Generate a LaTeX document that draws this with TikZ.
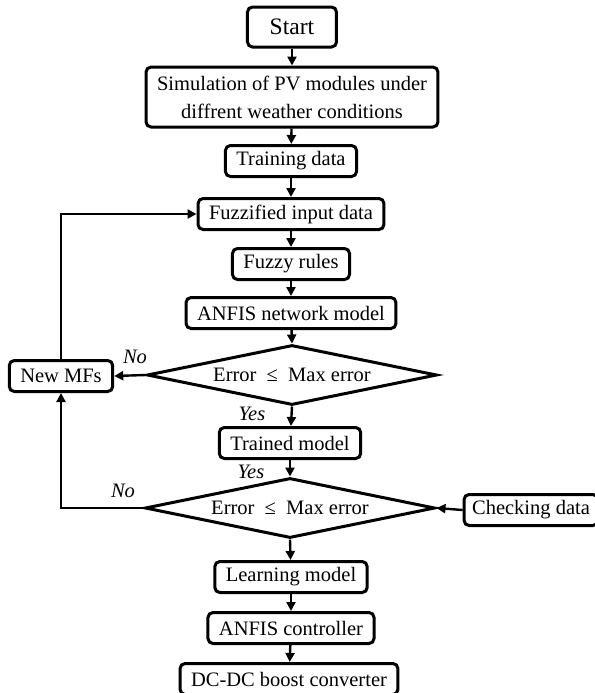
\documentclass[tikz,border=0pt]{standalone}
\usepackage{fontspec}
\setmainfont{Liberation Serif}
\usetikzlibrary{shapes.geometric,arrows.meta}

\tikzset{
	stepbox/.style={draw, line width=1.5pt, rounded corners=2.5pt, minimum height=15.5pt, inner xsep=5.5pt, inner ysep=2pt},
	decision/.style={draw, diamond, line width=1.5pt, aspect=4.8, minimum width=145pt, minimum height=30pt, inner sep=0pt},
	flow/.style={-{Triangle[length=4.5pt,width=4.5pt]}, line width=1.2pt},
	answer/.style={font=\fontsize{10.25}{12}\selectfont\itshape},
}

\begin{document}
\begin{tikzpicture}[x=0.5pt, y=-0.5pt, font=\fontsize{10.25}{14}\selectfont]
		\useasboundingbox (0,0) rectangle (595,693);

		% main column
		\node[stepbox, minimum width=44.5pt, minimum height=20pt, font=\fontsize{11.8}{14}\selectfont] (start) at (292,27) {Start};
		\node[stepbox, align=center, minimum height=30pt] (sim) at (292,97) {Simulation of PV modules under\\diffrent weather conditions};
		\node[stepbox] (train) at (291,161) {Training data};
		\node[stepbox] (fuzz) at (291,214) {Fuzzified input data};
		\node[stepbox] (rules) at (291,264) {Fuzzy rules};
		\node[stepbox] (anfis) at (291,313) {ANFIS network model};
		\node[decision] (err1) at (292,375) {Error\ \ ≤\ \ Max error};
		\node[stepbox] (trained) at (290,443) {Trained model};
		\node[decision] (err2) at (290,508) {Error\ \ ≤\ \ Max error};
		\node[stepbox] (learn) at (291,577) {Learning model};
		\node[stepbox] (ctrl) at (291,628) {ANFIS controller};
		\node[stepbox] (dcdc) at (289,679) {DC-DC boost converter};

		% side boxes
		\node[stepbox] (newmf) at (61,376) {New MFs};
		\node[stepbox, inner xsep=4pt] (check) at (531,510) {Checking data};

		% answers
		\node[answer] (no1) at (135,357) {No};
		\node[answer] (yes1) at (252,414) {Yes};
		\node[answer] (yes2) at (251,472) {Yes};
		\node[answer] (no2) at (123,491) {No};

		\draw[flow] (start) -- (sim);
		\draw[flow] (sim) -- (train);
		\draw[flow] (train) -- (fuzz);
		\draw[flow] (fuzz) -- (rules);
		\draw[flow] (rules) -- (anfis);
		\draw[flow] (anfis) -- (err1.north);
		\draw[flow] (err1.south) -- (trained);
		\draw[flow] (trained) -- (err2.north);
		\draw[flow] (err2.south) -- (learn);
		\draw[flow] (learn) -- (ctrl);
		\draw[flow] (ctrl) -- (dcdc);

		\draw[flow] (err1.west) -- (newmf.east);
		\draw[flow] (newmf.north) |- (fuzz.west);
		\draw[flow] (err2.west) -| (newmf.south);
		\draw[flow] (check.west) -- (err2.east);

	\end{tikzpicture}
\end{document}
